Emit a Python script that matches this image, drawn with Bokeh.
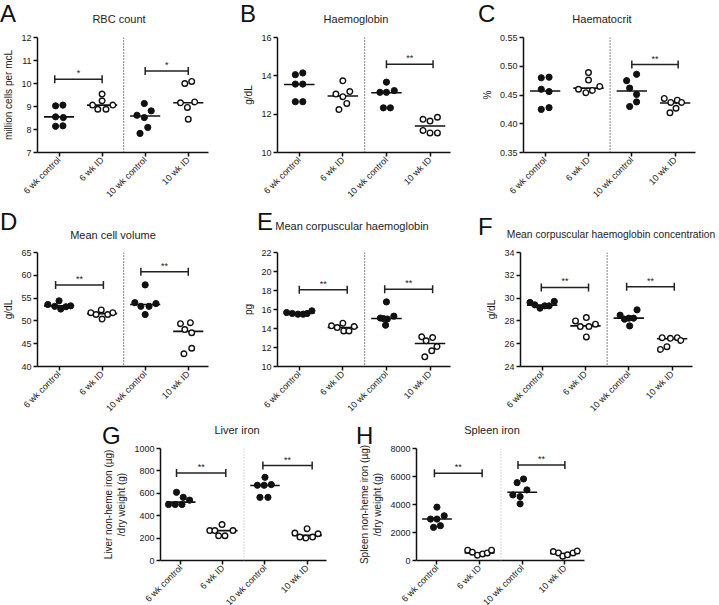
import math
from bokeh.plotting import figure
from bokeh.models import FixedTicker, Span, PrintfTickFormatter, Range1d, GridBox, Div
from bokeh.layouts import column, row, Spacer
from bokeh.embed import file_html
from bokeh.resources import INLINE

FONT = "Liberation Sans"
groups = ["6 wk control", "6 wk ID", "10 wk control", "10 wk ID"]

# ---------------- data ----------------
# A  RBC count
rbc_vals = [[9.03, 9.06, 8.55, 8.52, 8.14, 8.16],
            [9.54, 9.25, 9.06, 9.06, 8.88, 8.88],
            [9.13, 8.62, 8.52, 8.81, 8.09, 7.83],
            [10.0, 10.09, 9.16, 9.2, 8.96, 8.45]]
rbc_dx = [[-0.08, 0.09, -0.08, 0.1, -0.08, 0.09],
          [0.0, 0.0, -0.22, 0.25, -0.1, 0.09],
          [-0.02, -0.19, -0.02, 0.14, 0.06, -0.12],
          [-0.08, 0.08, -0.18, 0.15, -0.02, 0.0]]
rbc_mid = [8.55, 9.06, 8.59, 9.16]
rbc_sig = [(-0.1, 1.0, 10.19, "*"), (2.0, 3.0, 10.54, "*")]

# B  Haemoglobin
hb_vals = [[14.06, 14.15, 13.57, 13.57, 12.65, 12.65],
           [13.74, 13.05, 12.91, 13.18, 12.56, 12.24],
           [13.67, 13.14, 13.14, 13.23, 12.33, 12.33],
           [11.73, 11.64, 11.84, 11.15, 11.02, 11.02]]
hb_dx = [[-0.09, 0.08, -0.09, 0.08, -0.09, 0.08],
         [0.0, -0.16, 0.0, 0.16, 0.09, -0.09],
         [0.0, -0.15, 0.0, 0.18, -0.07, 0.09],
         [-0.16, 0.0, 0.17, -0.16, 0.0, 0.17]]
hb_mid = [13.55, 12.95, 13.12, 11.38]
hb_sig = [(2.0, 3.07, 14.6, "**")]

# C  Haematocrit
hct_vals = [[0.480, 0.481, 0.460, 0.456, 0.425, 0.428],
            [0.489, 0.476, 0.460, 0.454, 0.458, 0.465],
            [0.475, 0.486, 0.462, 0.451, 0.430, 0.438],
            [0.444, 0.437, 0.441, 0.437, 0.427, 0.419]]
hct_dx = [[-0.09, 0.09, -0.09, 0.09, -0.09, 0.09],
          [0.0, 0.0, -0.23, -0.06, 0.09, 0.26],
          [-0.12, 0.11, -0.05, 0.11, -0.05, 0.11],
          [-0.25, -0.1, 0.05, 0.15, 0.02, -0.12]]
hct_mid = [0.457, 0.462, 0.457, 0.436]
hct_sig = [(2.0, 3.07, 0.503, "**")]

# D  Mean cell volume
mcv_vals = [[53.6, 53.2, 54.4, 52.6, 53.1, 53.3],
            [51.8, 51.4, 52.4, 50.4, 51.4, 51.8],
            [54.0, 57.9, 53.2, 53.2, 53.8, 51.4],
            [49.4, 49.6, 48.1, 47.4, 42.8, 44.0]]
mcv_dx = [[-0.26, -0.1, 0.0, 0.04, 0.16, 0.27],
          [-0.26, -0.14, -0.02, 0.0, 0.13, 0.25],
          [-0.24, 0.0, -0.1, 0.09, 0.25, 0.0],
          [-0.18, 0.05, -0.08, 0.08, -0.1, 0.08]]
mcv_mid = [53.3, 51.6, 53.6, 47.7]
mcv_sig = [(-0.08, 1.03, 57.9, "**"), (1.9, 3.0, 60.8, "**")]

# E  Mean corpuscular haemoglobin
mch_vals = [[15.68, 15.58, 15.51, 15.51, 15.58, 15.86],
            [14.28, 14.1, 14.56, 13.75, 13.75, 14.21],
            [16.8, 15.1, 15.0, 15.3, 14.35, 15.05],
            [13.12, 13.05, 12.7, 12.1, 11.65, 11.02]]
mch_dx = [[-0.29, -0.16, -0.03, 0.09, 0.18, 0.29],
          [-0.26, -0.13, 0.0, 0.02, 0.14, 0.26],
          [0.0, -0.14, 0.02, 0.17, -0.02, -0.07],
          [-0.19, 0.06, -0.09, 0.16, 0.04, -0.12]]
mch_mid = [15.61, 14.1, 15.05, 12.42]
mch_sig = [(0.0, 1.1, 18.07, "**"), (1.96, 3.06, 18.14, "**")]

# F  Mean corpuscular haemoglobin concentration
mchc_vals = [[29.62, 29.41, 29.12, 29.32, 29.32, 29.71],
             [28.0, 28.29, 27.5, 27.5, 27.71, 26.59],
             [28.5, 28.97, 28.15, 28.24, 28.24, 27.56],
             [26.53, 26.47, 26.53, 26.29, 25.5, 25.74]]
mchc_dx = [[-0.28, -0.17, -0.05, 0.06, 0.16, 0.28],
           [-0.23, 0.02, -0.12, 0.08, 0.23, 0.02],
           [-0.2, 0.19, -0.1, 0.0, 0.11, 0.02],
           [-0.23, -0.04, 0.12, 0.2, -0.27, -0.12]]
mchc_mid = [29.38, 27.56, 28.24, 26.44]
mchc_sig = [(-0.02, 1.07, 30.94, "**"), (1.95, 3.05, 31.0, "**")]

# G  Liver iron
liv_vals = [[609, 564, 539, 500, 500, 500],
            [267, 267, 321, 221, 221, 267],
            [743, 672, 672, 678, 564, 564],
            [284, 245, 209, 200, 209, 239]]
liv_dx = [[-0.1, 0.06, 0.21, -0.29, -0.13, 0.03],
          [-0.31, -0.19, -0.02, -0.1, 0.05, 0.24],
          [0.0, -0.18, -0.02, 0.15, -0.12, 0.07],
          [0.0, -0.29, -0.17, -0.03, 0.13, 0.26]]
liv_mid = [521, 267, 669, 224]
liv_sig = [(-0.1, 1.07, 782, "**"), (1.95, 3.12, 848, "**")]

# H  Spleen iron
spl_vals = [[3811, 2959, 2959, 3196, 2367, 2485],
            [734, 592, 379, 473, 544, 734],
            [5562, 5823, 4687, 4568, 5042, 4048],
            [639, 544, 308, 402, 544, 686]]
spl_dx = [[0.0, -0.15, 0.0, 0.17, -0.08, 0.08],
          [-0.28, -0.17, -0.05, 0.07, 0.18, 0.28],
          [-0.12, 0.03, -0.22, -0.05, 0.11, -0.05],
          [-0.27, -0.15, -0.05, 0.06, 0.19, 0.29]]
spl_mid = [2959, 544, 4876, 497]
spl_sig = [(-0.06, 1.06, 6225, "**"), (1.9, 3.0, 6817, "**")]


def panel(letter, title, ylabel, vals, dx, mid, sig, yr, yticks, fmt,
          bl, fw, br, bt, fh, bb, xr, lx, ly, tx, ty, tw,
          divider_color="#333333", title_size="11px"):
    p = figure(frame_width=fw, frame_height=fh,
               min_border_left=bl, min_border_right=br,
               min_border_top=bt, min_border_bottom=bb,
               x_range=Range1d(*xr), y_range=Range1d(*yr),
               output_backend="svg", toolbar_location=None, tools="")
    p.grid.visible = False
    p.outline_line_color = None
    p.background_fill_color = None
    p.border_fill_color = None
    p.title.visible = False

    for ax in (p.xaxis[0], p.yaxis[0]):
        ax.axis_line_color = "#111111"
        ax.axis_line_width = 1.5
        ax.major_tick_line_color = "#111111"
        ax.major_tick_line_width = 1.5
        ax.major_tick_out = 4
        ax.major_tick_in = 0
        ax.minor_tick_line_color = None
        ax.major_label_text_font = FONT
        ax.major_label_text_color = "#1a1a1a"
        ax.major_label_standoff = 2

    p.xaxis.ticker = FixedTicker(ticks=[0, 1, 2, 3])
    p.xaxis.major_label_overrides = {i: g for i, g in enumerate(groups)}
    p.xaxis.major_label_orientation = math.pi / 4
    p.xaxis.major_label_text_font_size = "9px"

    p.yaxis.ticker = FixedTicker(ticks=yticks)
    if fmt:
        p.yaxis.formatter = PrintfTickFormatter(format=fmt)
    p.yaxis.major_label_text_font_size = "9px"
    p.yaxis.axis_label = ylabel
    p.yaxis.axis_label_text_font = FONT
    p.yaxis.axis_label_text_font_size = "10px"
    p.yaxis.axis_label_text_font_style = "normal"
    p.yaxis.axis_label_text_color = "#1a1a1a"
    p.yaxis.axis_label_standoff = 4

    p.add_layout(Span(location=1.5, dimension="height", line_color=divider_color,
                      line_dash="1 2", line_width=1.2))

    # median lines
    p.segment(x0=[i - 0.35 for i in range(4)], x1=[i + 0.35 for i in range(4)],
              y0=mid, y1=mid, line_color="#111111", line_width=1.6)

    # points
    for i in range(4):
        xs = [i + d for d in dx[i]]
        if i % 2 == 0:
            p.scatter(xs, vals[i], size=6.2, marker="circle", fill_color="#111111",
                      line_color="#111111", line_width=1.0)
        else:
            p.scatter(xs, vals[i], size=5.6, marker="circle", fill_color="white",
                      line_color="#111111", line_width=1.4)

    # significance bars
    for x0, x1, y, txt in sig:
        p.segment(x0=[x0], x1=[x1], y0=[y], y1=[y], line_color="#222222", line_width=1.5)
        p.scatter([x0, x1], [y, y], marker="dash", angle=math.pi / 2, size=8,
                  line_color="#222222", line_width=1.5)
        p.text(x=[(x0 + x1) / 2], y=[y], text=[txt], text_align="center",
               text_baseline="bottom", y_offset=-1, text_font_size="9px",
               text_color="#222222")

    # panel letter and title: Divs sharing the figure's grid cell
    lab = Div(text=letter, width=22, height=26, align="start",
              margin=(ly, 0, 0, lx),
              styles={"font-family": FONT, "font-size": "24px", "line-height": "24px",
                      "color": "#111111"})
    ttl = Div(text=title, width=tw, height=14, align="start",
              margin=(ty, 0, 0, tx),
              styles={"font-family": FONT, "font-size": title_size, "line-height": "13px",
                      "color": "#222222", "text-align": "center", "white-space": "nowrap"})
    return GridBox(children=[(p, 0, 0), (ttl, 0, 0), (lab, 0, 0)])


XR = (-0.5, 3.47)
XR3 = (-0.48, 3.46)

pA = panel("A", "RBC count", "million cells per mcL", rbc_vals, rbc_dx, rbc_mid, rbc_sig,
           (7, 12), [7, 8, 9, 10, 11, 12], None, 32, 171, 32, 37, 115, 58, XR,
           0, 2, 39, 13, 160)
pB = panel("B", "Haemoglobin", "g/dL", hb_vals, hb_dx, hb_mid, hb_sig,
           (10, 16), [10, 12, 14, 16], None, 34, 173, 28, 37, 115, 58, XR,
           0, 2, 36, 13, 160)
pC = panel("C", "Haematocrit", "%", hct_vals, hct_dx, hct_mid, hct_sig,
           (0.35, 0.55), [0.35, 0.40, 0.45, 0.50, 0.55], "%.2f", 42, 172, 27, 37, 115, 58, XR,
           0, 2, 44, 13, 160)

pD = panel("D", "Mean cell volume", "g/dL", mcv_vals, mcv_dx, mcv_mid, mcv_sig,
           (40, 65), [40, 45, 50, 55, 60, 65], None, 32, 171, 32, 42, 114, 58, XR,
           0, 0, 33, 19, 160)
pE = panel("E", "Mean corpuscular haemoglobin", "pg", mch_vals, mch_dx, mch_mid, mch_sig,
           (10, 22), [10, 12, 14, 16, 18, 20, 22], None, 34, 173, 28, 42, 114, 58, XR,
           17, 0, 12, 10, 200)
pF = panel("F", "Mean corpuscular haemoglobin concentration", "g/dL", mchc_vals, mchc_dx, mchc_mid, mchc_sig,
           (24, 34), [24, 26, 28, 30, 32, 34], None, 42, 172, 27, 42, 114, 58, XR,
           0, 5, 25, 18, 216, title_size="10.3px")

pG = panel("G", "Liver iron", "Liver non-heme iron (µg)\n/dry weight (g)", liv_vals, liv_dx, liv_mid, liv_sig,
           (0, 1000), [0, 200, 400, 600, 800, 1000], None, 54, 166, 30, 24, 112, 50, XR3,
           2, 0, 57, 0, 160, divider_color="#bbbbbb")
pH = panel("H", "Spleen iron", "Spleen non-heme iron (µg)\n/dry weight (g)", spl_vals, spl_dx, spl_mid, spl_sig,
           (0, 8000), [0, 2000, 4000, 6000, 8000], None, 52, 168, 20, 24, 112, 50, XR3,
           0, 0, 56, 0, 160, divider_color="#bbbbbb")

layout = column(row(pA, pB, pC), row(pD, pE, pF), row(Spacer(width=100, height=186), pG, pH))

open("out.html", "w").write(file_html(layout, INLINE))
